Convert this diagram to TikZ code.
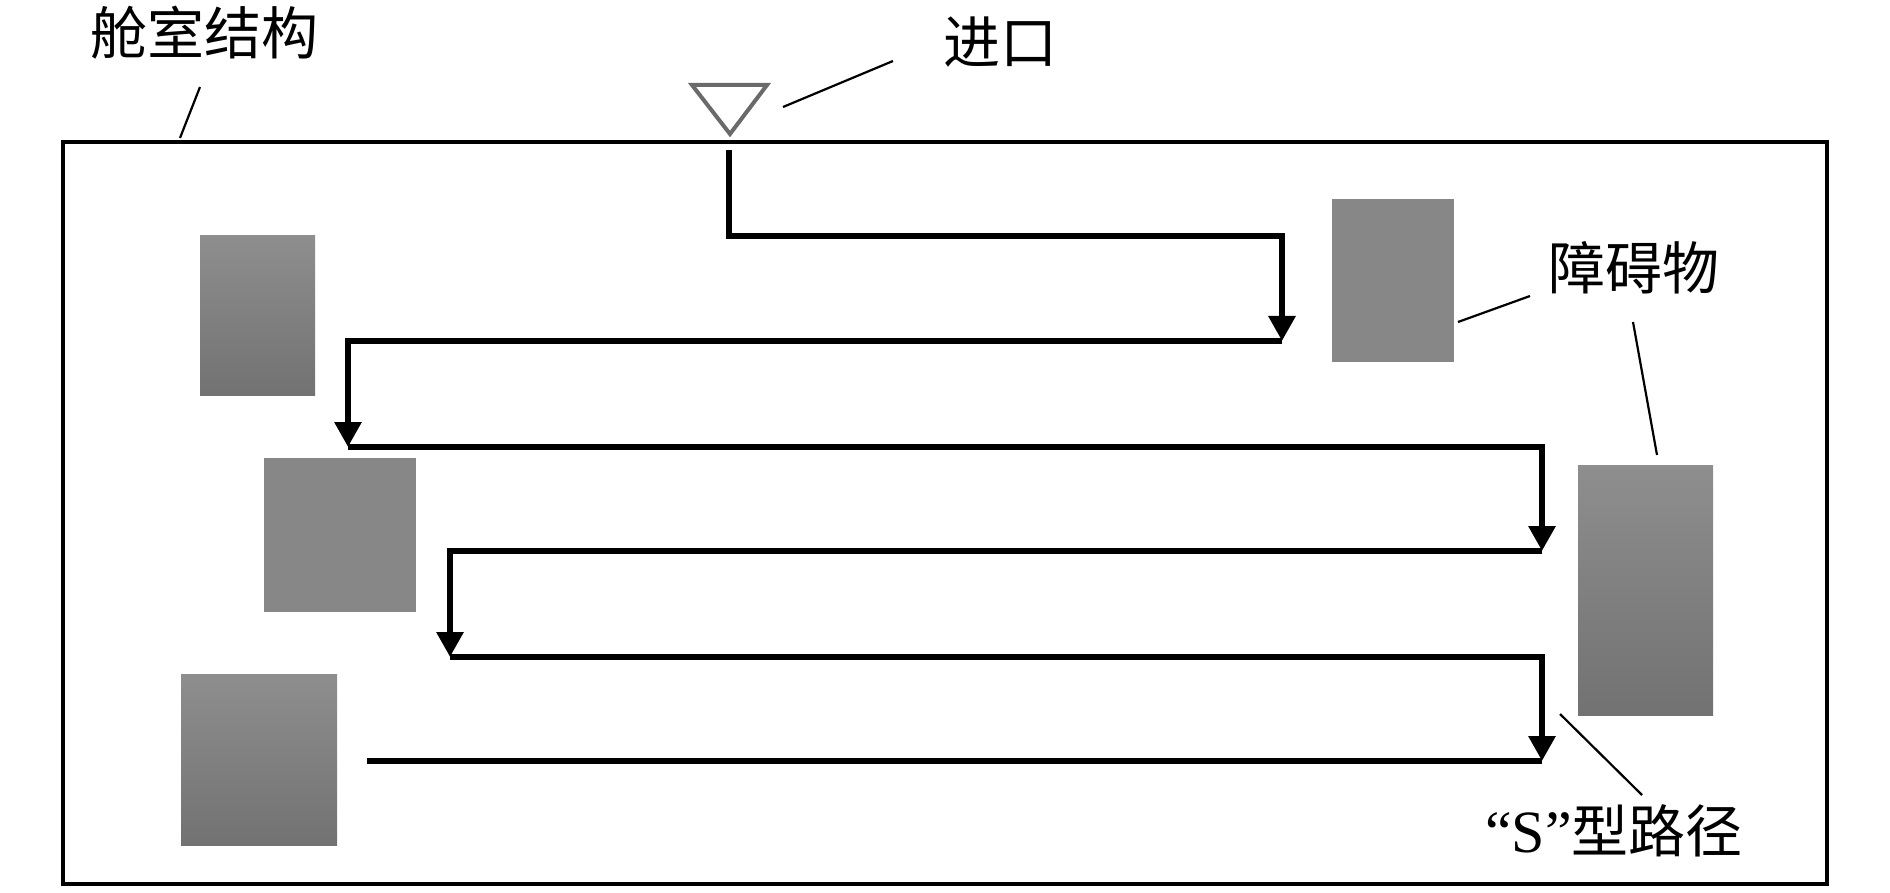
\documentclass[tikz,border=0pt]{standalone}
\usepackage{fontspec}
\newfontfamily\cjk{Noto Sans CJK SC}
\newfontfamily\latf{Liberation Serif}
\usetikzlibrary{arrows.meta}
\definecolor{obtop}{HTML}{8E8E8E}
\definecolor{obbot}{HTML}{727272}
\definecolor{obflat}{HTML}{878787}
\definecolor{trigray}{HTML}{6A6A6A}
\begin{document}
\begin{tikzpicture}[x=1pt,y=-1pt,
  frame/.style={line width=4pt,draw=black},
  route/.style={line width=6pt,draw=black},
  routearrow/.style={route,-{Triangle[length=25pt,width=26pt]}},
  obgrad/.style={inner sep=0pt,outer sep=0pt,draw=none,top color=obtop,bottom color=obbot,anchor=north west},
  obflatst/.style={inner sep=0pt,outer sep=0pt,draw=none,fill=obflat,anchor=north west},
  lbl/.style={font=\cjk\fontsize{57pt}{62pt}\selectfont,inner sep=0pt},
  leader/.style={line width=2.2pt,draw=black}]
\useasboundingbox (0,0) rectangle (1890,893);
% cabin frame
\draw[frame] (63,142) rectangle (1827,884);
% obstacles
\node[obgrad,minimum width=115pt,minimum height=159pt] (o1) at (200,236) {};
\node[obflatst,minimum width=152pt,minimum height=154pt] (o2) at (264,458) {};
\node[obgrad,minimum width=156pt,minimum height=171pt] (o3) at (181,674) {};
\node[obflatst,minimum width=122pt,minimum height=163pt] (o4) at (1332,199) {};
\node[obgrad,minimum width=135pt,minimum height=250pt] (o5) at (1578,465) {};
% entrance triangle
\coordinate (t1) at (692,85);
\coordinate (t2) at (767,85);
\coordinate (t3) at (730,134);
\draw[line width=4pt,draw=trigray,line join=miter] (t1) -- (t2) -- (t3) -- cycle;
% route corners
\coordinate (p0) at (729,150);
\coordinate (p1) at (729,236);
\coordinate (p2) at (1282,236);
\coordinate (p3) at (1282,341);
\coordinate (p4) at (348,341);
\coordinate (p5) at (348,447);
\coordinate (p6) at (1542,447);
\coordinate (p7) at (1542,551);
\coordinate (p8) at (450,551);
\coordinate (p9) at (450,657);
\coordinate (p10) at (1542,657);
\coordinate (p11) at (1542,761);
\coordinate (p12) at (367,761);
\draw[routearrow] (p0) -- (p1) -- (p2) -- (p3);
\draw[routearrow] (p3) -- (p4) -- (p5);
\draw[routearrow] (p5) -- (p6) -- (p7);
\draw[routearrow] (p7) -- (p8) -- (p9);
\draw[routearrow] (p9) -- (p10) -- (p11);
\draw[route] (p11) -- (p12);
% labels
\node[lbl] (lcab) at (204,33) {舱室结构};
\node[lbl] (lin) at (1000,42) {进口};
\node[lbl] (lobs) at (1634,268) {障碍物};
\node[lbl,anchor=west] (lpath) at (1485,831) {{\latf\fontsize{60pt}{62pt}\selectfont “S”}型路径};
% leader lines
\coordinate (c1a) at (180,138);
\coordinate (c1b) at (200,87);
\coordinate (c2a) at (783,107);
\coordinate (c2b) at (893,61);
\coordinate (c3a) at (1458,322);
\coordinate (c3b) at (1530,296);
\coordinate (c4a) at (1633,322);
\coordinate (c4b) at (1657,455);
\coordinate (c5a) at (1560,714);
\coordinate (c5b) at (1642,795);
\draw[leader] (c1a) -- (c1b);
\draw[leader] (c2a) -- (c2b);
\draw[leader] (c3a) -- (c3b);
\draw[leader] (c4a) -- (c4b);
\draw[leader] (c5a) -- (c5b);
\end{tikzpicture}
\end{document}
